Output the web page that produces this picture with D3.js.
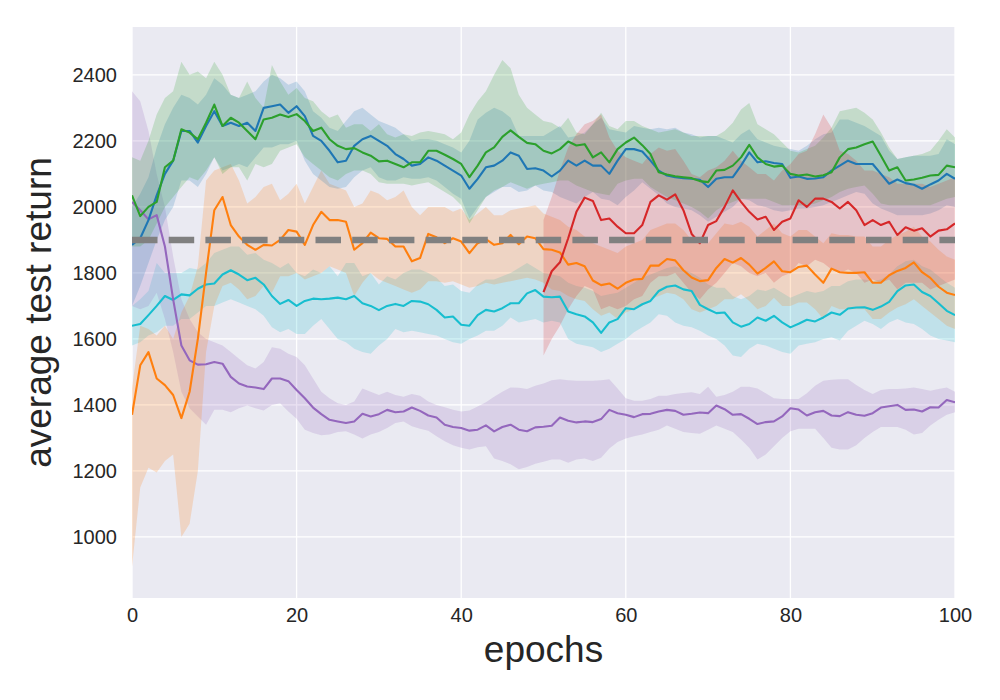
<!DOCTYPE html>
<meta charset="utf-8">
<script src="https://d3js.org/d3.v7.min.js"></script>
<style>
  body { margin: 0; background: #fff; }
  text { font-family: "Liberation Sans", Arial, sans-serif; fill: #262626; }
</style>
<div id="chart"></div>
<script>

// x positions (epochs) of the logged points
const epochs = d3.range(0, 101);
const redEpochs = d3.range(50, 101);

// tick labels
const xTicks = [0, 20, 40, 60, 80, 100];
const yTicks = [1000, 1200, 1400, 1600, 1800, 2000, 2200, 2400];
const baseline = 1900;

// series: mean, lower and upper edge of the band
const blueMean = [1885,1905,1960,2035,2100,2140,2230,2230,2195,2245,2290,2245,2255,2245,2255,2230,2300,2305,2310,2285,2305,
  2275,2215,2200,2170,2135,2140,2185,2205,2215,2200,2185,2160,2145,2125,2130,2150,2140,2125,2110,2095,
  2055,2085,2120,2125,2140,2165,2155,2115,2117,2110,2092,2110,2140,2125,2140,2125,2125,2100,2140,2175,
  2175,2168,2140,2110,2095,2090,2087,2085,2082,2060,2085,2090,2090,2125,2165,2135,2138,2133,2130,2088,
  2092,2085,2086,2090,2110,2125,2140,2130,2130,2130,2100,2070,2083,2072,2067,2055,2068,2080,2100,2085];
const blueLow = [1700,1760,1830,1900,1960,2000,2080,2080,2060,2100,2150,2110,2120,2130,2120,2150,2180,2180,2190,2190,2200,
  2140,2100,2080,2060,2055,2060,2090,2110,2120,2090,2080,2080,2090,2085,2085,2090,2080,2060,2040,2025,
  1965,2000,2030,2045,2060,2060,2045,2050,2065,2050,2045,2030,2020,2010,2030,2045,2025,2020,2005,2030,
  2050,2075,2055,2035,2010,2000,1995,1990,1975,1955,1970,1985,2000,2025,2020,2005,2000,1990,1985,1990,
  1995,1995,2000,2005,2015,2025,2035,2045,2040,2010,1995,1985,1975,1975,1975,1975,1980,1990,2005,2000];
const blueHigh = [2000,2040,2090,2180,2250,2300,2340,2330,2310,2340,2390,2370,2340,2330,2340,2350,2380,2400,2390,2370,2380,
  2350,2290,2270,2240,2230,2260,2290,2300,2280,2260,2250,2240,2220,2200,2205,2205,2200,2190,2180,2165,
  2200,2265,2285,2300,2290,2270,2215,2215,2215,2215,2230,2245,2210,2215,2225,2250,2270,2235,2230,2225,
  2245,2240,2235,2240,2235,2240,2225,2220,2210,2215,2215,2205,2195,2220,2235,2205,2195,2185,2180,2175,
  2170,2185,2205,2220,2225,2265,2265,2255,2245,2230,2215,2170,2145,2150,2155,2155,2155,2160,2205,2190];

const greenMean = [2035,1972,2000,2015,2120,2140,2235,2225,2205,2255,2310,2245,2270,2255,2230,2205,2265,2270,2280,2272,2281,
  2260,2230,2240,2205,2185,2175,2178,2165,2155,2138,2140,2130,2120,2135,2135,2170,2170,2158,2145,2130,
  2090,2125,2165,2180,2212,2232,2212,2194,2190,2170,2162,2175,2198,2186,2190,2150,2165,2135,2175,2195,
  2210,2187,2160,2105,2098,2093,2090,2087,2078,2075,2110,2112,2125,2150,2188,2150,2130,2122,2125,2100,
  2095,2098,2092,2096,2105,2150,2175,2180,2190,2198,2155,2110,2120,2080,2083,2088,2095,2097,2125,2120];
const greenLow = [1880,1880,1900,1950,2000,2030,2060,2090,2080,2110,2150,2100,2120,2120,2080,2130,2120,2130,2170,2180,2190,
  2150,2130,2110,2090,2080,2100,2110,2110,2100,2075,2070,2070,2070,2065,2070,2075,2060,2045,2030,2005,
  1950,1990,2030,2050,2060,2075,2065,2055,2065,2070,2075,2080,2080,2065,2055,2045,2040,2035,2070,2080,
  2085,2085,2060,2045,2030,2020,2010,2000,1985,1965,1990,2005,2015,2025,2025,2025,2025,2015,2005,2005,
  2005,2005,2010,2020,2030,2045,2055,2060,2065,2040,2010,2005,2005,2005,2005,2005,2005,2015,2025,2030];
const greenHigh = [2150,2140,2200,2280,2330,2350,2440,2400,2410,2390,2440,2400,2340,2330,2380,2330,2300,2430,2380,2340,2360,
  2330,2320,2290,2270,2280,2240,2250,2250,2230,2250,2220,2210,2220,2215,2225,2230,2225,2220,2205,2225,
  2280,2320,2350,2400,2445,2420,2340,2300,2280,2260,2255,2240,2270,2225,2220,2250,2285,2245,2235,2260,
  2260,2245,2235,2225,2230,2235,2225,2215,2215,2215,2215,2230,2255,2295,2315,2250,2235,2220,2195,2170,
  2165,2175,2185,2210,2240,2290,2295,2300,2285,2265,2225,2180,2145,2150,2155,2160,2170,2200,2235,2210];

const orangeMean = [1370,1520,1560,1480,1460,1430,1360,1440,1600,1800,1990,2030,1945,1910,1885,1870,1885,1883,1900,1930,1925,
  1885,1945,1985,1960,1960,1955,1870,1890,1922,1905,1903,1880,1880,1835,1845,1918,1908,1890,1905,1895,
  1860,1890,1902,1885,1890,1915,1887,1910,1905,1872,1870,1862,1825,1830,1820,1777,1763,1768,1752,1770,
  1780,1782,1822,1822,1842,1838,1808,1786,1775,1778,1815,1842,1831,1845,1825,1798,1815,1835,1805,1802,
  1818,1822,1795,1770,1813,1802,1800,1800,1802,1770,1770,1793,1806,1815,1832,1802,1785,1758,1740,1733];
const orangeLow = [910,1150,1210,1195,1230,1250,1000,1040,1200,1560,1700,1760,1770,1750,1720,1730,1760,1740,1790,1790,1800,
  1780,1790,1800,1820,1810,1800,1730,1770,1800,1780,1770,1760,1750,1740,1750,1775,1775,1770,1775,1765,
  1755,1760,1770,1765,1770,1775,1780,1785,1780,1770,1750,1745,1730,1720,1715,1690,1670,1680,1660,1680,
  1690,1700,1720,1730,1740,1735,1720,1690,1680,1690,1700,1720,1720,1735,1715,1690,1700,1725,1700,1700,
  1710,1710,1690,1660,1700,1690,1690,1690,1690,1660,1660,1680,1695,1705,1720,1700,1680,1660,1640,1630];
const orangeHigh = [1450,1640,1630,1610,1640,1600,1680,1730,1820,2080,2110,2120,2130,2080,2010,2030,2060,2070,2020,2040,2070,
  2010,2060,2110,2070,2060,2050,2000,2010,2050,2040,2020,2030,2050,2000,1975,2000,2000,2000,1985,1995,
  1960,1980,2000,1975,1975,1990,1995,2000,2005,1980,1970,1960,1940,1930,1910,1890,1880,1870,1860,1880,
  1890,1900,1930,1940,1950,1950,1930,1900,1890,1890,1920,1950,1945,1955,1940,1910,1930,1950,1920,1910,
  1930,1930,1910,1890,1920,1915,1915,1910,1910,1880,1880,1900,1915,1925,1940,1910,1895,1870,1850,1840];

// red only runs from epoch 50
const redMean = [1742,1805,1832,1905,1985,2028,2018,1960,1965,1940,1920,
  1920,1945,2015,2035,2022,2038,1990,1918,1890,1945,1957,2000,2050,2015,1985,1962,1970,1930,1955,1965,
  2020,2000,2025,2025,2015,1995,2015,1990,1945,1960,1945,1955,1915,1938,1928,1935,1910,1928,1932,1950];
const redLow = [1550,1600,1640,1690,1730,1760,1750,1690,1700,1690,1700,
  1720,1730,1770,1790,1790,1800,1770,1740,1720,1750,1770,1800,1830,1820,1800,1790,1800,1770,1790,1800,
  1830,1820,1840,1830,1810,1800,1810,1800,1770,1780,1770,1780,1750,1770,1770,1770,1750,1760,1770,1780];
const redHigh = [1960,2030,2110,2180,2220,2250,2260,2280,2210,2170,2150,
  2140,2130,2160,2180,2170,2175,2140,2100,2090,2110,2120,2140,2170,2140,2120,2100,2100,2080,2110,2130,
  2160,2170,2220,2280,2240,2170,2160,2140,2110,2110,2100,2090,2070,2070,2070,2070,2060,2070,2080,2090];

const purpleMean = [2015,1990,1962,1975,1880,1720,1580,1535,1522,1523,1530,1525,1485,1465,1456,1453,1448,1480,1480,1472,1445,
  1420,1392,1372,1355,1350,1345,1350,1373,1365,1372,1385,1378,1380,1392,1382,1368,1362,1340,1333,1330,
  1322,1325,1338,1320,1333,1340,1325,1320,1332,1334,1337,1362,1352,1347,1350,1348,1357,1385,1375,1370,
  1363,1372,1373,1380,1385,1382,1370,1373,1377,1375,1398,1387,1370,1372,1358,1342,1348,1350,1365,1390,
  1386,1368,1378,1382,1368,1366,1378,1370,1367,1375,1392,1396,1400,1385,1386,1380,1393,1392,1415,1408];
const purpleLow = [1700,1690,1700,1740,1660,1560,1440,1390,1365,1340,1385,1385,1378,1390,1398,1390,1383,1400,1405,1380,1358,
  1325,1315,1308,1310,1318,1320,1310,1298,1310,1318,1330,1345,1350,1335,1328,1322,1305,1290,1278,1270,
  1265,1272,1275,1238,1230,1220,1205,1212,1222,1228,1235,1235,1225,1235,1238,1230,1240,1268,1288,1298,
  1305,1310,1318,1325,1338,1328,1318,1315,1313,1325,1338,1328,1318,1295,1270,1235,1250,1275,1300,1320,
  1328,1328,1328,1300,1270,1265,1265,1278,1300,1318,1333,1333,1333,1325,1310,1315,1338,1355,1370,1378];
const purpleHigh = [2350,2320,2230,2100,2000,1850,1720,1660,1620,1600,1590,1580,1560,1540,1520,1510,1530,1575,1570,1555,1545,
  1520,1480,1440,1420,1405,1400,1410,1450,1440,1430,1440,1430,1425,1433,1428,1410,1400,1393,1385,1380,
  1383,1395,1408,1425,1440,1453,1452,1448,1458,1465,1475,1478,1475,1473,1473,1473,1475,1478,1450,1420,
  1413,1413,1418,1428,1428,1433,1436,1438,1433,1455,1425,1430,1440,1455,1455,1450,1435,1420,1418,1418,
  1418,1435,1458,1473,1476,1478,1478,1460,1445,1433,1445,1448,1448,1450,1453,1448,1443,1448,1453,1440];

const cyanMean = [1640,1645,1672,1700,1730,1718,1735,1732,1752,1765,1768,1795,1808,1795,1778,1785,1765,1730,1706,1718,1700,
  1715,1722,1720,1722,1725,1720,1730,1708,1700,1687,1700,1706,1700,1715,1713,1705,1688,1665,1668,1643,
  1640,1672,1688,1683,1693,1708,1708,1738,1748,1728,1726,1728,1683,1675,1668,1650,1618,1650,1660,1693,
  1690,1705,1715,1745,1758,1762,1750,1745,1703,1690,1678,1680,1650,1637,1645,1665,1655,1670,1650,1635,
  1646,1658,1653,1665,1680,1673,1692,1695,1696,1688,1698,1712,1745,1762,1765,1742,1730,1708,1685,1672];
const cyanLow = [1580,1590,1610,1620,1640,1640,1660,1660,1680,1700,1700,1710,1720,1710,1700,1690,1670,1635,1620,1630,1615,
  1615,1640,1660,1630,1600,1590,1570,1560,1555,1580,1600,1630,1620,1625,1620,1615,1610,1600,1590,1585,
  1600,1610,1625,1625,1640,1665,1650,1655,1660,1650,1655,1650,1600,1585,1580,1575,1560,1570,1585,1600,
  1620,1635,1650,1675,1670,1650,1640,1635,1625,1610,1600,1580,1550,1545,1570,1585,1580,1570,1560,1555,
  1580,1585,1590,1600,1605,1595,1625,1640,1655,1645,1630,1650,1660,1650,1645,1630,1610,1600,1595,1590];
const cyanHigh = [1700,1720,1745,1830,1800,1800,1800,1815,1810,1830,1860,1870,1880,1880,1855,1860,1840,1830,1815,1830,1800,
  1790,1810,1800,1820,1790,1830,1830,1790,1800,1765,1790,1780,1800,1810,1810,1800,1785,1760,1765,1745,
  1740,1765,1780,1780,1790,1800,1815,1830,1815,1800,1795,1790,1770,1760,1755,1745,1730,1735,1740,1755,
  1770,1785,1795,1805,1815,1820,1810,1800,1785,1765,1755,1755,1730,1720,1730,1750,1745,1755,1740,1725,
  1735,1745,1740,1745,1760,1760,1775,1780,1780,1775,1780,1795,1820,1835,1840,1820,1810,1790,1770,1755];

// drawing order: first drawn ends up at the bottom
const series = [
  {x: epochs, mean: cyanMean, low: cyanLow, high: cyanHigh, color: "#17becf"},
  {x: epochs, mean: purpleMean, low: purpleLow, high: purpleHigh, color: "#9467bd"},
  {x: epochs, mean: orangeMean, low: orangeLow, high: orangeHigh, color: "#ff7f0e"},
  {x: epochs, mean: blueMean, low: blueLow, high: blueHigh, color: "#1f77b4"},
  {x: epochs, mean: greenMean, low: greenLow, high: greenHigh, color: "#2ca02c"},
  {x: redEpochs, mean: redMean, low: redLow, high: redHigh, color: "#d62728"}
];

const W = 1000, H = 700;
const plot = {left: 132, right: 955, top: 27, bottom: 598};

const svg = d3.select("#chart").append("svg")
  .attr("width", W)
  .attr("height", H);

const x = d3.scaleLinear().domain([0, 100]).range([plot.left, plot.right]);
const y = d3.scaleLinear().domain([815, 2545]).range([plot.bottom, plot.top]);

svg.append("defs").append("clipPath").attr("id", "clip")
  .append("rect")
    .attr("x", plot.left).attr("y", plot.top)
    .attr("width", plot.right - plot.left).attr("height", plot.bottom - plot.top);

// seaborn darkgrid background
svg.append("rect")
  .attr("x", plot.left).attr("y", plot.top)
  .attr("width", plot.right - plot.left).attr("height", plot.bottom - plot.top)
  .attr("fill", "#eaeaf2");

const grid = svg.append("g").attr("stroke", "#fff").attr("stroke-width", 1.3);
grid.selectAll(".gx").data(xTicks).join("line")
  .attr("x1", d => x(d)).attr("x2", d => x(d))
  .attr("y1", plot.top).attr("y2", plot.bottom);
grid.selectAll(".gy").data(yTicks).join("line")
  .attr("x1", plot.left).attr("x2", plot.right)
  .attr("y1", d => y(d)).attr("y2", d => y(d));

const g = svg.append("g").attr("clip-path", "url(#clip)");

// bands first, then lines on top
series.forEach(s => {
  const pts = s.x.map((e, i) => ({e: e, lo: s.low[i], hi: s.high[i]}));
  g.append("path")
    .datum(pts)
    .attr("fill", s.color)
    .attr("fill-opacity", 0.2)
    .attr("d", d3.area()
      .x(d => x(d.e))
      .y0(d => y(d.lo))
      .y1(d => y(d.hi)));
});

series.forEach(s => {
  g.append("path")
    .datum(s.x.map((e, i) => [e, s.mean[i]]))
    .attr("fill", "none")
    .attr("stroke", s.color)
    .attr("stroke-width", 2.1)
    .attr("stroke-linejoin", "round")
    .attr("d", d3.line()
      .x(d => x(d[0]))
      .y(d => y(d[1])));
});

// reference level
g.append("line")
  .attr("x1", x(0)).attr("x2", x(100))
  .attr("y1", y(baseline)).attr("y2", y(baseline))
  .attr("stroke", "#808080")
  .attr("stroke-width", 6.5)
  .attr("stroke-dasharray", "25.5 11.2");

// axes without lines, only labels
const xAxis = svg.append("g")
  .attr("transform", `translate(0,${plot.bottom})`)
  .call(d3.axisBottom(x).tickValues(xTicks).tickFormat(d3.format("d")).tickSize(0).tickPadding(10));
const yAxis = svg.append("g")
  .attr("transform", `translate(${plot.left},0)`)
  .call(d3.axisLeft(y).tickValues(yTicks).tickFormat(d3.format("d")).tickSize(0).tickPadding(15));
[xAxis, yAxis].forEach(a => {
  a.select(".domain").remove();
  a.selectAll("text")
    .attr("font-family", "Liberation Sans, Arial, sans-serif")
    .attr("font-size", 20)
    .attr("fill", "#262626");
});

svg.append("text")
  .attr("x", (plot.left + plot.right) / 2)
  .attr("y", 662)
  .attr("text-anchor", "middle")
  .attr("font-size", 37)
  .text("epochs");

svg.append("text")
  .attr("transform", `translate(51,${(plot.top + plot.bottom) / 2}) rotate(-90)`)
  .attr("text-anchor", "middle")
  .attr("font-size", 37)
  .text("average test return");

</script>
